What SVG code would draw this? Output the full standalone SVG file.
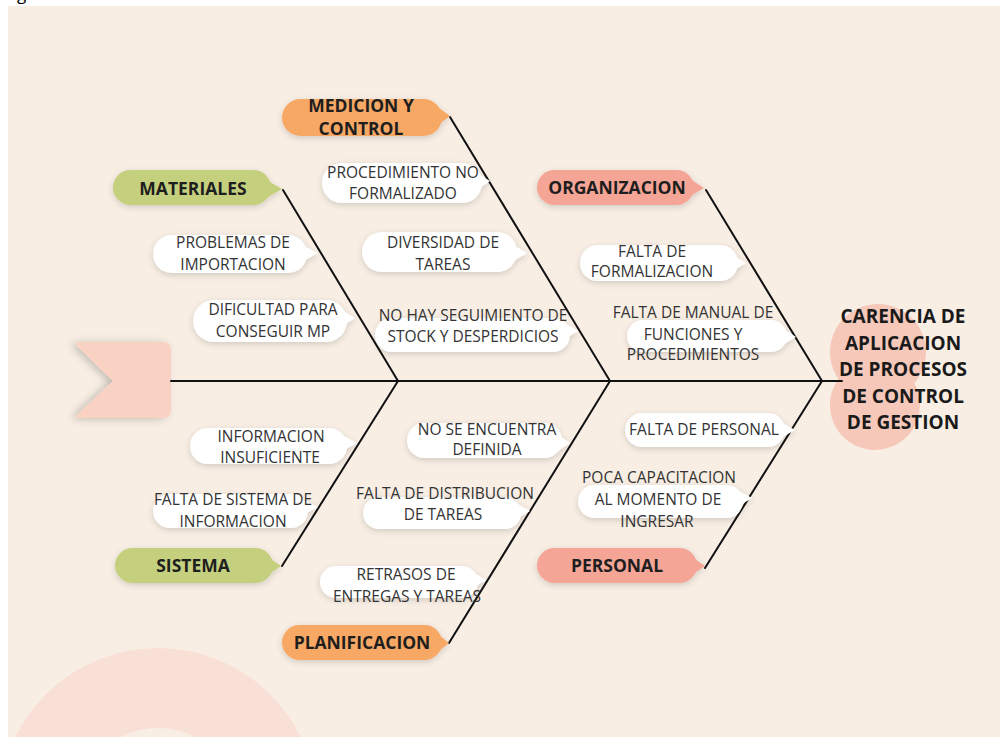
<svg xmlns="http://www.w3.org/2000/svg" width="1000" height="737" viewBox="0 0 1000 737">
<defs>
<style>
.bg{fill:#f8eee4}
.bone{stroke:#111;stroke-width:2;fill:none;stroke-linecap:round}
.cause rect,.cause polygon{fill:#ffffff}
.cause text{font-family:"Open Sans","Liberation Sans",sans-serif;font-size:15.5px;fill:#333333;text-anchor:middle}
.cat text{font-family:"Open Sans","Liberation Sans",sans-serif;font-size:17.5px;font-weight:bold;fill:#1e1e1e;text-anchor:middle}
.green{fill:#c5d07f}
.orange{fill:#f7a865}
.salmon{fill:#f4a596}
.head text{font-family:"Open Sans","Liberation Sans",sans-serif;font-size:19px;font-weight:bold;fill:#1a1a1a;text-anchor:middle}
</style>
<filter id="sh" x="-20%" y="-50%" width="140%" height="200%">
<feDropShadow dx="0" dy="2" stdDeviation="3" flood-color="#000" flood-opacity="0.16"/>
</filter>
<filter id="tsh" x="-30%" y="-30%" width="160%" height="160%">
<feDropShadow dx="-4" dy="1" stdDeviation="4" flood-color="#000" flood-opacity="0.22"/>
</filter>
</defs>
<rect x="0" y="0" width="1000" height="737" fill="#ffffff"/>
<rect class="bg" x="8" y="6" width="992" height="731"/>
<text x="17" y="0" font-family="Open Sans, Liberation Sans, sans-serif" font-size="17" fill="#000">g</text>
<circle cx="158" cy="807" r="119" fill="none" stroke="#f9e0d6" stroke-width="80"/>
<g id="tail">
<path d="M80,342 H163 Q171,342 171,350 V410 Q171,418 163,418 H80 Q74,418 78,414 L113,381 L78,347 Q74,342 80,342 Z" fill="#f9d2c4" filter="url(#tsh)"/>
</g>
<g id="head-bg">
<circle cx="878" cy="352" r="48" fill="#f6c8ba"/>
<circle cx="875" cy="405" r="45" fill="#f6c8ba"/>
</g>
<g id="connectors">
<line class="bone" x1="171" y1="381" x2="842" y2="381"/>
<line class="bone" x1="283" y1="190" x2="398" y2="381"/>
<line class="bone" x1="450" y1="117" x2="610" y2="381"/>
<line class="bone" x1="706" y1="190" x2="822" y2="381"/>
<line class="bone" x1="398" y1="381" x2="282" y2="566"/>
<line class="bone" x1="610" y1="381" x2="449" y2="643"/>
<line class="bone" x1="822" y1="381" x2="705" y2="568"/>
</g>
<g id="effect" class="head">
<text x="903" y="323">CARENCIA DE</text>
<text x="903" y="350">APLICACION</text>
<text x="903" y="376">DE PROCESOS</text>
<text x="903" y="403">DE CONTROL</text>
<text x="903" y="429">DE GESTION</text>
</g>
<g id="cat-materiales" class="cat">
<g filter="url(#sh)"><rect class="green" x="113" y="170" width="158" height="35" rx="17.5"/><polygon class="green" points="263,178 282,189 263,200"/></g>
<text x="193" y="195">MATERIALES</text>
</g>
<g id="cat-medicion" class="cat">
<g filter="url(#sh)"><rect class="orange" x="282" y="99" width="160" height="37" rx="18.5"/><polygon class="orange" points="435,105 450,116 435,127"/></g>
<text x="361" y="112">MEDICION Y</text>
<text x="361" y="135">CONTROL</text>
</g>
<g id="cat-organizacion" class="cat">
<g filter="url(#sh)"><rect class="salmon" x="537" y="170" width="157" height="35" rx="17.5"/><polygon class="salmon" points="687,177 704,188 687,198"/></g>
<text x="617" y="194">ORGANIZACION</text>
</g>
<g id="cat-sistema" class="cat">
<g filter="url(#sh)"><rect class="green" x="115" y="548" width="158" height="35" rx="17.5"/><polygon class="green" points="265,555 281,566 265,577"/></g>
<text x="193" y="572">SISTEMA</text>
</g>
<g id="cat-planificacion" class="cat">
<g filter="url(#sh)"><rect class="orange" x="282" y="625" width="160" height="35" rx="17.5"/><polygon class="orange" points="435,632 449,643 435,654"/></g>
<text x="362" y="649">PLANIFICACION</text>
</g>
<g id="cat-personal" class="cat">
<g filter="url(#sh)"><rect class="salmon" x="537" y="548" width="160" height="35" rx="17.5"/><polygon class="salmon" points="689,555 705,566 689,577"/></g>
<text x="617" y="572">PERSONAL</text>
</g>
<g id="c-problemas" class="cause">
<g filter="url(#sh)"><rect x="153" y="235" width="154" height="38" rx="19"/><polygon points="300,244 318,253 300,263"/></g>
<text x="233" y="248">PROBLEMAS DE</text>
<text x="233" y="270">IMPORTACION</text>
</g>
<g id="c-dificultad" class="cause">
<g filter="url(#sh)"><rect x="193" y="300" width="154" height="42" rx="21"/><polygon points="340,309 355,318 340,328"/></g>
<text x="273" y="315">DIFICULTAD PARA</text>
<text x="273" y="337">CONSEGUIR MP</text>
</g>
<g id="c-procedimiento" class="cause">
<g filter="url(#sh)"><rect x="322" y="163" width="160" height="40" rx="20"/><polygon points="475,172 490,181 475,191"/></g>
<text x="403" y="178">PROCEDIMIENTO NO</text>
<text x="403" y="199">FORMALIZADO</text>
</g>
<g id="c-diversidad" class="cause">
<g filter="url(#sh)"><rect x="362" y="232" width="155" height="40" rx="20"/><polygon points="510,243 527,253 510,263"/></g>
<text x="443" y="248">DIVERSIDAD DE</text>
<text x="443" y="270">TAREAS</text>
</g>
<g id="c-stock" class="cause">
<g filter="url(#sh)"><rect x="375" y="318" width="195" height="34" rx="17"/><polygon points="563,322 578,331 563,340"/></g>
<text x="473" y="321">NO HAY SEGUIMIENTO DE</text>
<text x="473" y="342">STOCK Y DESPERDICIOS</text>
</g>
<g id="c-formalizacion" class="cause">
<g filter="url(#sh)"><rect x="580" y="245" width="158" height="36" rx="18"/><polygon points="731,254 746,263 731,272"/></g>
<text x="652" y="257">FALTA DE</text>
<text x="652" y="277">FORMALIZACION</text>
</g>
<g id="c-manual" class="cause">
<g filter="url(#sh)"><rect x="627" y="320" width="160" height="32" rx="16"/><polygon points="781,327 796,337 781,346"/></g>
<text x="693" y="318">FALTA DE MANUAL DE</text>
<text x="693" y="340">FUNCIONES Y</text>
<text x="693" y="360">PROCEDIMIENTOS</text>
</g>
<g id="c-insuficiente" class="cause">
<g filter="url(#sh)"><rect x="190" y="428" width="157" height="36" rx="18"/><polygon points="340,434 357,443 340,452"/></g>
<text x="271" y="442">INFORMACION</text>
<text x="270" y="463">INSUFICIENTE</text>
</g>
<g id="c-sistinfo" class="cause">
<g filter="url(#sh)"><rect x="153" y="494" width="155" height="34" rx="17"/><polygon points="301,499 318,507 301,516"/></g>
<text x="233" y="505">FALTA DE SISTEMA DE</text>
<text x="233" y="527">INFORMACION</text>
</g>
<g id="c-definida" class="cause">
<g filter="url(#sh)"><rect x="407" y="423" width="155" height="35" rx="17.5"/><polygon points="555,433 570,443 555,453"/></g>
<text x="487" y="435">NO SE ENCUENTRA</text>
<text x="487" y="455">DEFINIDA</text>
</g>
<g id="c-distribucion" class="cause">
<g filter="url(#sh)"><rect x="363" y="497" width="158" height="32" rx="16"/><polygon points="514,502 530,511 514,520"/></g>
<text x="445" y="499">FALTA DE DISTRIBUCION</text>
<text x="443" y="520">DE TAREAS</text>
</g>
<g id="c-retrasos" class="cause">
<g filter="url(#sh)"><rect x="320" y="566" width="158" height="32" rx="16"/><polygon points="471,571 486,580 471,589"/></g>
<text x="406" y="580">RETRASOS DE</text>
<text x="407" y="602">ENTREGAS Y TAREAS</text>
</g>
<g id="c-personal" class="cause">
<g filter="url(#sh)"><rect x="625" y="413" width="160" height="34" rx="17"/><polygon points="779,421 795,430 779,439"/></g>
<text x="704" y="435">FALTA DE PERSONAL</text>
</g>
<g id="c-capacitacion" class="cause">
<g filter="url(#sh)"><rect x="578" y="485" width="165" height="33" rx="16.5"/><polygon points="737,490 752,498 737,507"/></g>
<text x="659" y="483">POCA CAPACITACION</text>
<text x="658" y="505">AL MOMENTO DE</text>
<text x="657" y="527">INGRESAR</text>
</g>
</svg>
